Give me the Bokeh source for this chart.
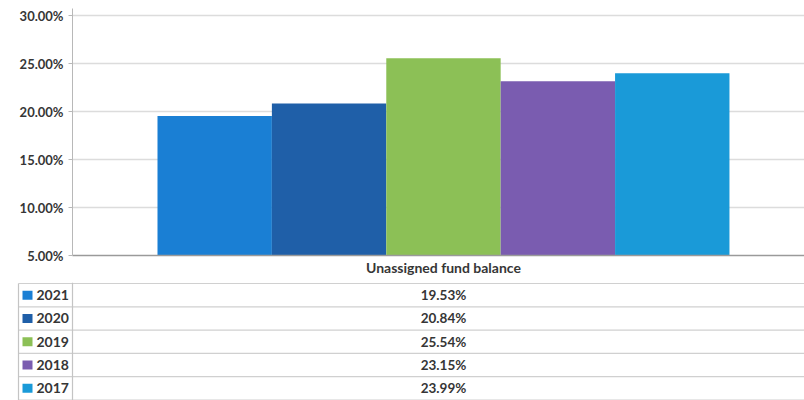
from bokeh.plotting import figure
from bokeh.models import Range1d, FixedTicker, PrintfTickFormatter, ColumnDataSource
from bokeh.core.properties import value
from bokeh.embed import file_html
from bokeh.resources import INLINE

# ---- data ----
categories = ["Unassigned fund balance"]
years = ["2021", "2020", "2019", "2018", "2017"]
balances = [19.53, 20.84, 25.54, 23.15, 23.99]
colors = ["#1a7fd4", "#1f5fa8", "#8cc056", "#7a5cb0", "#1a9ad8"]
y_ticks = [5, 10, 15, 20, 25, 30]

FONT = value("Lato")
TXT = "#363636"

W = 804
# ---- chart figure ----
n = len(years)
xs = [i - (n - 1) / 2 for i in range(n)]
src = ColumnDataSource(dict(x=xs, top=balances, color=colors, year=years))

TOP_B, FRAME_H, BOT_B = 8, 247, 27
p = figure(width=W, height=TOP_B + FRAME_H + BOT_B, output_backend="svg", toolbar_location=None,
           x_range=Range1d(-3.243, 3.156), y_range=Range1d(5, 30.73),
           min_border_left=72, min_border_right=0, min_border_top=TOP_B, min_border_bottom=BOT_B)
p.outline_line_color = None
p.background_fill_color = "white"
p.border_fill_color = "white"

p.vbar(x="x", top="top", bottom=5, width=1.0, fill_color="color", line_color=None, source=src)

p.yaxis.ticker = FixedTicker(ticks=y_ticks)
p.yaxis.formatter = PrintfTickFormatter(format="%.2f%%")
p.yaxis.major_label_text_font = "Lato"
p.yaxis.major_label_text_font_style = "bold"
p.yaxis.major_label_text_font_size = "13px"
p.yaxis.major_label_text_color = TXT
p.yaxis.axis_line_color = "#b8b8b8"
p.yaxis.major_tick_line_color = "#b8b8b8"
p.yaxis.major_tick_out = 4
p.yaxis.major_tick_in = 0
p.yaxis.minor_tick_line_color = None
p.yaxis.major_label_standoff = 5

p.xaxis.ticker = FixedTicker(ticks=[0])
p.xaxis.major_label_overrides = {0: categories[0]}
p.xaxis.major_label_text_font = "Lato"
p.xaxis.major_label_text_font_style = "bold"
p.xaxis.major_label_text_font_size = "14px"
p.xaxis.major_label_text_color = TXT
p.xaxis.axis_line_color = "#9a9a9a"
p.xaxis.axis_line_width = 1.5
p.xaxis.major_tick_line_color = None
p.xaxis.major_tick_out = 0
p.xaxis.major_tick_in = 0
p.xaxis.minor_tick_line_color = None
p.xaxis.major_label_standoff = 3

p.xgrid.grid_line_color = None
p.ygrid.grid_line_color = "#dcdcdc"
p.ygrid.grid_line_width = 1.5

# ---- data table figure (coordinates in page pixels) ----
top_px = TOP_B + FRAME_H + BOT_B
bot_px = 400
t = figure(width=W, height=bot_px - top_px, output_backend="svg", toolbar_location=None,
           x_range=Range1d(0, W), y_range=Range1d(bot_px, top_px),
           x_axis_location=None, y_axis_location=None,
           min_border=0)
t.outline_line_color = None
t.grid.grid_line_color = None

row_h = 23.3
first_line = 283
line_ys = [first_line + k * row_h for k in range(n + 1)]
t.segment(x0=[18] * len(line_ys), x1=[W] * len(line_ys), y0=line_ys, y1=line_ys,
          line_color="#d0d0d0", line_width=1.2)
t.segment(x0=[18, 72], x1=[18, 72], y0=[first_line, top_px], y1=[400, 400],
          line_color="#c4c4c4", line_width=1.2)

row_cy = [first_line + (k + 0.5) * row_h for k in range(n)]
center_x = 72 + 3.243 * 114.4
tsrc = ColumnDataSource(dict(
    ky=row_cy, color=colors, year=years,
    val=[f"{v:.2f}%" for v in balances],
))
t.rect(x=27, y="ky", width=10, height=9, fill_color="color", line_color=None, source=tsrc)
t.text(x=36, y="ky", text="year", text_font=FONT, text_font_style="bold",
       text_font_size="14px", text_color=TXT, text_baseline="middle", text_align="left",
       source=tsrc)
t.text(x=center_x, y="ky", text="val", text_font=FONT, text_font_style="bold",
       text_font_size="13.5px", text_color=TXT, text_baseline="middle", text_align="center",
       source=tsrc)

open("out.html", "w").write(file_html([p, t], INLINE))
